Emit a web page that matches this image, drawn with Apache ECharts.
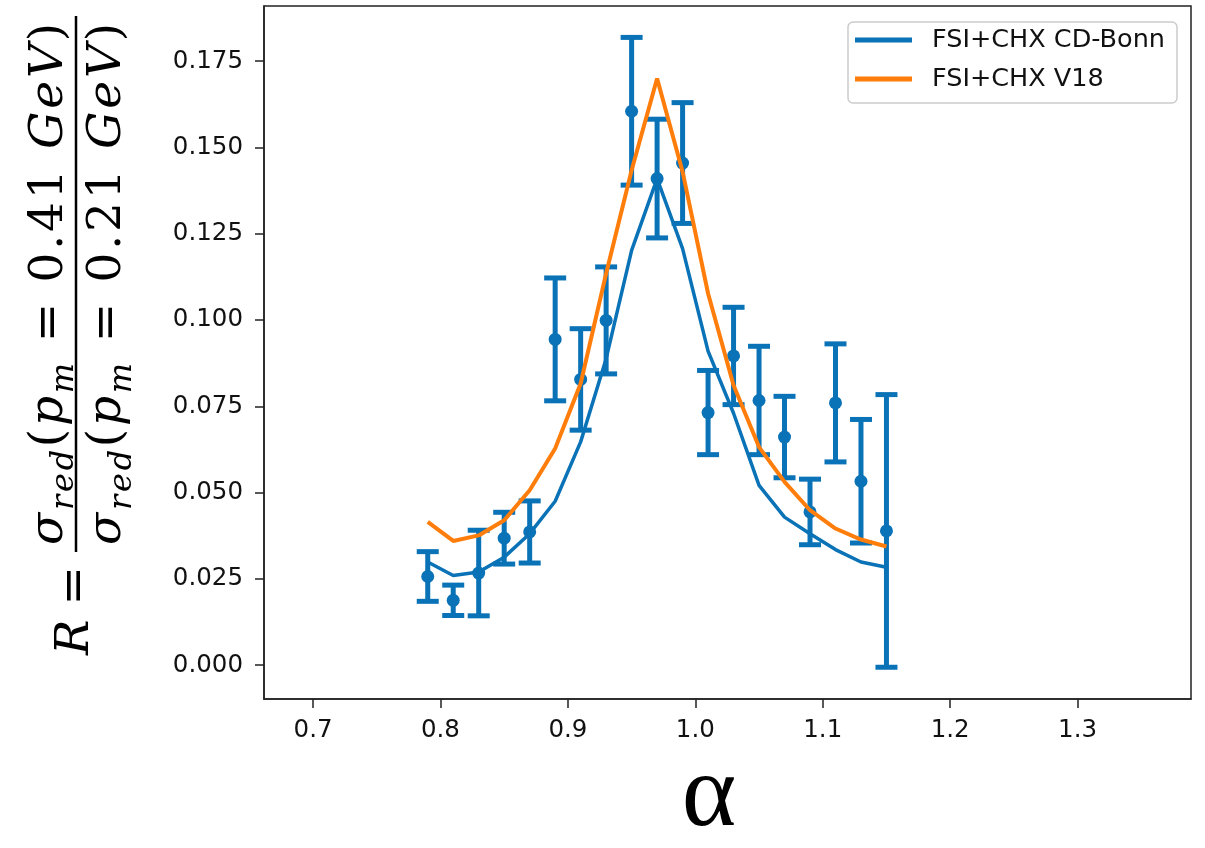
<!DOCTYPE html>
<html>
<head>
<meta charset="utf-8">
<script src="https://cdn.jsdelivr.net/npm/echarts@6/dist/echarts.min.js"></script>
<style>
  html, body { margin: 0; padding: 0; background: #ffffff; }
  #chart { width: 1205px; height: 848px; }
</style>
</head>
<body>
<div id="chart"></div>
<script>
// alpha bins and measured ratio R with symmetric uncertainties
const alpha = [0.79, 0.81, 0.83, 0.85, 0.87, 0.89, 0.91, 0.93, 0.95, 0.97,
               0.99, 1.01, 1.03, 1.05, 1.07, 1.09, 1.11, 1.13, 1.15];
const ratio = [0.0257, 0.0188, 0.0267, 0.0368, 0.0386, 0.0944, 0.0828, 0.0999, 0.1605, 0.1410,
               0.1455, 0.0732, 0.0896, 0.0767, 0.0661, 0.0444, 0.0760, 0.0533, 0.0389];
const ratioErr = [0.0072, 0.0044, 0.0124, 0.0075, 0.0090, 0.0178, 0.0147, 0.0155, 0.0214, 0.0172,
                  0.0175, 0.0122, 0.0141, 0.0157, 0.0118, 0.0095, 0.0171, 0.0179, 0.0395];
// calculations: FSI + charge exchange with two NN potentials
const cdBonn = [0.0299, 0.0260, 0.0270, 0.0313, 0.0381, 0.0475, 0.0647, 0.0888, 0.1202, 0.1410,
                0.1207, 0.0910, 0.0730, 0.0521, 0.0429, 0.0381, 0.0335, 0.0299, 0.0284];
const v18 = [0.0415, 0.0360, 0.0376, 0.0420, 0.0507, 0.0628, 0.0816, 0.1135, 0.1434, 0.1700,
             0.1430, 0.1077, 0.0811, 0.0632, 0.0531, 0.0449, 0.0396, 0.0364, 0.0344];
const seriesNames = ['FSI+CHX CD-Bonn', 'FSI+CHX V18'];
// tick labels
const xTicks = [0.7, 0.8, 0.9, 1.0, 1.1, 1.2, 1.3];
const yTicks = [0.000, 0.025, 0.050, 0.075, 0.100, 0.125, 0.150, 0.175];

const BLUE = '#0a72b6';
const ORANGE = '#ff7d0b';
const INK = '#111111';
const tickFont = "'DejaVu Sans', sans-serif";
const mathFont = "'DejaVu Serif', serif";

const errData = alpha.map((a, i) => [a, ratio[i], ratioErr[i]]);
const bonnData = alpha.map((a, i) => [a, cdBonn[i]]);
const v18Data = alpha.map((a, i) => [a, v18[i]]);

// --- y-axis title: R = sigma_red(p_m = 0.41 GeV) / sigma_red(p_m = 0.21 GeV) ---
const measureCtx = document.createElement('canvas').getContext('2d');
function textWidth(t, font) { measureCtx.font = font; return measureCtx.measureText(t).width; }
function fontOf(size, italic) { return (italic ? 'italic ' : '') + size.toFixed(2) + 'px ' + mathFont; }

// lay a formula row out glyph by glyph, with a uniform tracking so it fills `target` px
function layoutRuns(runs, fs, target) {
  const glyphs = [];
  runs.forEach(r => {
    const size = fs * (r.s || 1);
    const font = fontOf(size, r.it);
    for (const ch of r.t) glyphs.push({ t: ch, font, size, dy: r.sub ? 0.22 * fs : 0, w: textWidth(ch, font) });
  });
  const natural = glyphs.reduce((s, g) => s + g.w, 0);
  const track = Math.max(-2, Math.min(10, (target - natural) / (glyphs.length - 1)));
  let x = 0;
  glyphs.forEach(g => { g.x = x; x += g.w + track; });
  return { placed: glyphs, width: x - track };
}
function runsFor(pm) {
  return [
    { t: 'σ', it: 1 }, { t: 'red', it: 1, sub: 1, s: 0.68 }, { t: '(' },
    { t: 'p', it: 1 }, { t: 'm', it: 1, sub: 1, s: 0.68 }, { t: ' = ' },
    { t: pm }, { t: ' ' }, { t: 'GeV', it: 1 }, { t: ')' }
  ];
}
function buildYTitle() {
  const fs = 47;
  const target = 522;
  const num = layoutRuns(runsFor('0.41'), fs, target);
  const den = layoutRuns(runsFor('0.21'), fs, target);
  const children = [];
  const textEl = (t, font, x, base, size) => ({
    type: 'text',
    x: x, y: base - 0.3 * size,
    style: { text: t, font: font, fill: '#000', align: 'left', verticalAlign: 'middle',
             textAlign: 'left', textVerticalAlign: 'middle' }
  });
  const rFont = fontOf(fs, true), eqFont = fontOf(fs, false);
  const rBase = 0.3 * fs;
  children.push(textEl('R', rFont, 0, rBase, fs));
  const eqX = textWidth('R', rFont) + 0.3 * fs;
  children.push(textEl('=', eqFont, eqX, rBase, fs));
  const lineX = eqX + textWidth('=', eqFont) + 0.3 * fs;
  const lineLen = Math.max(num.width, den.width) + 0.3 * fs;
  children.push({ type: 'line', shape: { x1: lineX, y1: 0, x2: lineX + lineLen, y2: 0 },
                  style: { stroke: '#000', lineWidth: 2.5 } });
  const numBase = -0.25 * fs, denBase = 0.98 * fs;
  [[num, numBase], [den, denBase]].forEach(([row, base]) => {
    const x0 = lineX + (lineLen - row.width) / 2;
    row.placed.forEach(p => children.push(textEl(p.t, p.font, x0 + p.x, base + p.dy, p.size)));
  });
  return { type: 'group', x: 76, y: 655, rotation: Math.PI / 2, children, silent: true };
}

const chart = echarts.init(document.getElementById('chart'), null, { renderer: 'canvas' });

const option = {
  animation: false,
  backgroundColor: '#ffffff',
  grid: {
    left: 264, right: 14, top: 6, bottom: 149,
    show: true, borderColor: '#222', borderWidth: 1.5, backgroundColor: 'transparent'
  },
  legend: {
    orient: 'vertical',
    left: 848, top: 22,
    padding: [4, 12, 10, 7],
    itemGap: 11,
    itemWidth: 57, itemHeight: 5,
    icon: 'rect',
    backgroundColor: 'rgba(255,255,255,0.8)',
    borderColor: '#cccccc', borderWidth: 1.5, borderRadius: 5,
    textStyle: { fontFamily: tickFont, fontSize: 25.5, color: INK, lineHeight: 28, padding: [0, 0, 0, 15] },
    data: seriesNames
  },
  xAxis: {
    type: 'value',
    min: 0.6615, max: 1.389,
    axisLine: { show: true, onZero: false, lineStyle: { color: '#222', width: 1.5 } },
    axisTick: { show: true, inside: false, length: 9, customValues: xTicks, lineStyle: { color: '#222', width: 1.5 } },
    axisLabel: { customValues: xTicks, margin: 19, fontFamily: tickFont, fontSize: 24.5, color: INK,
                 formatter: v => v.toFixed(1) },
    splitLine: { show: false }
  },
  yAxis: {
    type: 'value',
    min: -0.0098, max: 0.1910,
    axisLine: { show: true, onZero: false, lineStyle: { color: '#222', width: 1.5 } },
    axisTick: { show: true, inside: false, length: 9, customValues: yTicks, lineStyle: { color: '#222', width: 1.5 } },
    axisLabel: { customValues: yTicks, margin: 21, fontFamily: tickFont, fontSize: 24.5, color: INK,
                 formatter: v => v.toFixed(3) },
    splitLine: { show: false }
  },
  series: [
    {
      name: 'data',
      type: 'custom',
      data: errData,
      encode: { x: 0, y: 1 },
      z: 2,
      renderItem: function (params, api) {
        const x = api.value(0), y = api.value(1), e = api.value(2);
        const p = api.coord([x, y]);
        const hi = api.coord([x, y + e]);
        const lo = api.coord([x, y - e]);
        const cap = 11;
        const st = { stroke: BLUE, lineWidth: 5 };
        return {
          type: 'group',
          children: [
            { type: 'line', shape: { x1: p[0], y1: hi[1], x2: p[0], y2: lo[1] }, style: st },
            { type: 'line', shape: { x1: p[0] - cap, y1: hi[1], x2: p[0] + cap, y2: hi[1] }, style: st },
            { type: 'line', shape: { x1: p[0] - cap, y1: lo[1], x2: p[0] + cap, y2: lo[1] }, style: st },
            { type: 'circle', shape: { cx: p[0], cy: p[1], r: 6.5 }, style: { fill: BLUE } }
          ]
        };
      }
    },
    {
      name: seriesNames[0],
      type: 'line',
      data: bonnData,
      showSymbol: false,
      z: 3,
      itemStyle: { color: BLUE },
      lineStyle: { color: BLUE, width: 3.5 }
    },
    {
      name: seriesNames[1],
      type: 'line',
      data: v18Data,
      showSymbol: false,
      z: 4,
      itemStyle: { color: ORANGE },
      lineStyle: { color: ORANGE, width: 4 }
    }
  ],
  graphic: [
    buildYTitle(),
    {
      type: 'text', x: 709, y: 798, silent: true,
      style: { text: 'α', font: '104px ' + "'Liberation Serif', serif", fill: '#000',
               align: 'center', verticalAlign: 'middle', textAlign: 'center', textVerticalAlign: 'middle' }
    }
  ]
};

chart.setOption(option);
</script>
</body>
</html>
